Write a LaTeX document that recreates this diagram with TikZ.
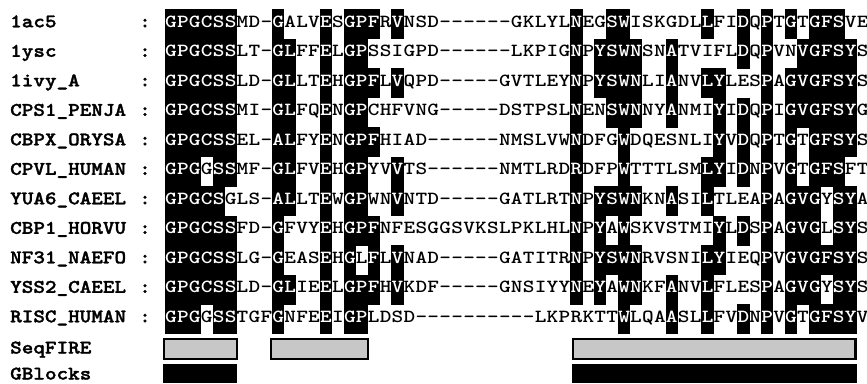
\documentclass[tikz,border=0pt]{standalone}
\usepackage{fontspec}
\newfontfamily\resfont{lmmonolt10-bold.otf}[FakeStretch=1.2]
\newfontfamily\labfont{lmmonolt10-bold.otf}[FakeStretch=1.15, FakeBold=1.6]

% alignment grid, 1pt = one pixel of the figure
\newcommand{\cw}{11.925}  % column width
\newcommand{\rh}{29.5}    % row pitch
\newcount\rescol
\newif\ifresdark
\def\endres{}
% one residue: black tile + white letter when shaded
\def\putres#1{%
  \pgfmathsetmacro\resx{165+\cw*(\the\rescol+0.5)}%
  \pgfmathsetmacro\resy{27.3+\rh*(\rowidx-1)}%
  \ifresdark
    \fill[black] (\resx-\cw/2-0.2, \resy-18.2) rectangle ++(\cw+0.4, \rh+0.4);
    \node[res, text=white] at (\resx, \resy) {#1};
  \else
    \node[res] at (\resx, \resy) {#1};
  \fi}
% read a row; [ ... ] marks shaded residues
\def\readres#1{%
  \ifx#1\endres\else
    \ifx#1[\resdarktrue\else
      \ifx#1]\resdarkfalse\else
        \putres{#1}\advance\rescol by 1
      \fi
    \fi
    \expandafter\readres
  \fi}
\def\seqrow#1#2{\rescol=0 \resdarkfalse\def\rowidx{#1}\readres#2\endres}

\begin{document}
\begin{tikzpicture}[x=1pt, y=-1pt,
    res/.style={anchor=base, inner sep=0pt, font=\resfont\fontsize{18.5}{20}\selectfont},
    lab/.style={anchor=base west, inner sep=0pt, font=\labfont\fontsize{19.2}{20}\selectfont},
    firebar/.style={draw=black, line width=2.4pt, fill=black!22},
    gbbar/.style={fill=black}]
  \path[fill=white, use as bounding box] (0,0) rectangle (867,383);

  % sequence names
  \foreach \nm [count=\k] in {1ac5,1ysc,1ivy\_A,CPS1\_PENJA,CBPX\_ORYSA,CPVL\_HUMAN,
      YUA6\_CAEEL,CBP1\_HORVU,NF31\_NAEFO,YSS2\_CAEEL,RISC\_HUMAN}{
    \node[lab] (name\k) at (10, 27.3+\rh*\k-\rh) {\nm};
    \node[lab, anchor=base] (colon\k) at (145, 27.3+\rh*\k-\rh) {:};
  }

  % aligned residues
  \seqrow{1}{[GPGCSS]MD-[G]ALV[E]S[GPF]R[V]NSD------GKLYL[N]EG[SW]ISKGDL[L]FI[D]Q[P]T[G]T[GFS]VE}
  \seqrow{2}{[GPGCSS]LT-[GL]FF[E]L[GP]SSIGPD------LKPIG[N]P[YSWN]SN[A]TVIFL[D]Q[P]VN[VGFSY]S}
  \seqrow{3}{[GPGCSS]LD-[GL]LT[E]H[GPF]L[V]QPD-----GVTLEY[N]P[YSWN]LI[A]NV[LY]LES[P]A[GVGFSY]S}
  \seqrow{4}{[GPGCSS]MI-[GL]FQ[E]N[GP]CHFVNG-----DSTPSL[N]EN[SWN]NY[A]NMI[Y]I[D]Q[P]I[GVGFSY]G}
  \seqrow{5}{[GPGCSS]EL-[AL]FY[E]N[GPF]HIAD------NMSLVW[N]DFG[W]DQESNLI[Y]V[D]Q[P]T[G]T[GFSY]S}
  \seqrow{6}{[GPG]G[SS]MF-[GL]FV[E]H[GP]YV[V]TS------NMTLRD[R]DFP[W]TTTLSM[LY]I[D]N[P]V[G]T[GFS]FT}
  \seqrow{7}{[GPGCS]GLS-[AL]LT[E]W[GP]WN[V]NTD-----GATLRT[N]P[YSWN]KN[A]SI[L]TLEA[P]A[GVG]Y[SY]A}
  \seqrow{8}{[GPGCSS]FD-[G]FVY[E]H[GPF]NFESGGSVKSLPKLHL[N]P[Y]A[W]SKVSTMI[Y]L[D]S[P]A[GVG]L[SY]S}
  \seqrow{9}{[GPGCSS]LG-[G]EAS[E]H[G]L[F]L[V]NAD-----GATITR[N]P[YSWN]RVSNI[LY]IEQ[P]V[GVGFSY]S}
  \seqrow{10}{[GPGCSS]LD-[GL]IE[E]L[GPF]H[V]KDF-----GNSIYY[N]E[Y]A[WN]KF[A]NV[L]FLES[P]A[GVG]Y[SY]S}
  \seqrow{11}{[GPG]G[SS]TGF[G]NFE[E]I[GP]LDSD----------LKPRKTT[W]LQA[A]SL[L]FV[D]N[P]V[G]T[GFSY]V}

  % predicted blocks
  \node[lab] (seqfire) at (10, 353.5) {SeqFIRE};
  \node[lab] (gblocks) at (10, 379.5) {GBlocks};
  \draw[firebar] (164,339.2) rectangle (237,358.8);
  \draw[firebar] (271.2,339.2) rectangle (367.8,358.8);
  \draw[firebar] (573,339.2) rectangle (855.5,358.8);
  \fill[gbbar] (163,364) rectangle (237,383);
  \fill[gbbar] (572,364) rectangle (857,383);
\end{tikzpicture}
\end{document}
